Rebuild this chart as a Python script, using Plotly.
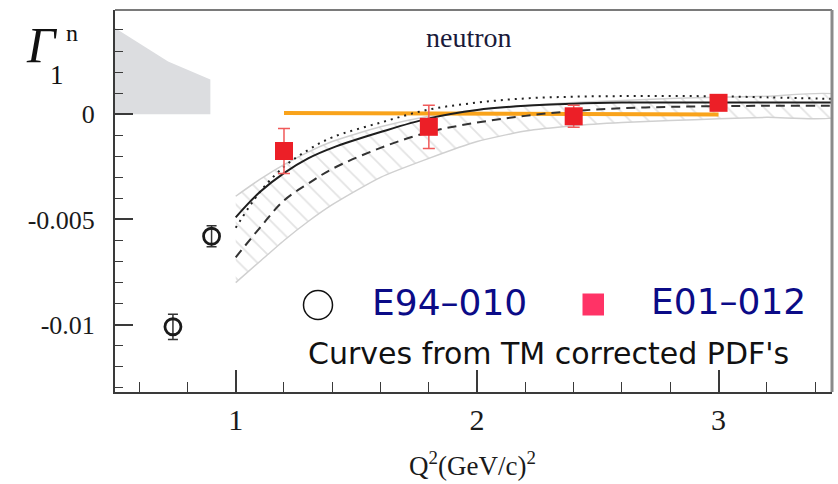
import plotly.graph_objects as go

# E94-010 measurements (open circles)
e94_q2 = [0.74, 0.90]
e94_g1 = [-0.0101, -0.0058]
e94_err = [0.0006, 0.0005]

# E01-012 measurements (red squares)
e01_q2 = [1.2, 1.8, 2.4, 3.0]
e01_g1 = [-0.00175, -0.0006, -0.0001, 0.00054]
e01_err = [0.00107, 0.00103, 0.00052, 0.0003]

# model curves from TM-corrected PDFs
curve_q2 = [1.0, 1.1, 1.2, 1.3, 1.4, 1.6, 1.8, 2.0, 2.2, 2.4, 2.6, 2.8, 3.0, 3.2, 3.5]
solid_g1 = [-0.0049, -0.0037, -0.0028, -0.0021, -0.0016, -0.00085, -0.0002, 0.0002,
            0.0004, 0.0005, 0.00055, 0.00056, 0.00056, 0.00056, 0.00056]
dotted_g1 = [-0.0054, -0.0037, -0.0025, -0.0017, -0.0011, -0.0004, 0.00022, 0.00055,
             0.00075, 0.00083, 0.00086, 0.00086, 0.00085, 0.0008, 0.00072]
dashed_g1 = [-0.0068, -0.0054, -0.0041, -0.0033, -0.0026, -0.0016, -0.00085, -0.0004,
             -0.00008, 0.00015, 0.00028, 0.00035, 0.00038, 0.0004, 0.0004]
band_top = [-0.0039, -0.0031, -0.0024, -0.0018, -0.0013, -0.0006, -0.0001, 0.0002,
            0.0004, 0.00055, 0.00065, 0.00075, 0.0008, 0.00085, 0.0009]
band_bottom = [-0.0080, -0.0070, -0.0060, -0.0051, -0.0043, -0.0030, -0.0021, -0.0013,
               -0.0008, -0.00055, -0.0004, -0.0003, -0.00022, -0.00015, -0.0001]

# low-Q2 uncertainty region (gray) and the flat orange estimate
gray_q2 = [0.5, 0.72, 0.895, 0.895, 0.5]
gray_g1 = [0.0041, 0.0025, 0.00165, 0.0, 0.0]
orange_q2 = [1.2, 3.0]
orange_g1 = [0.00006, -0.00001]

# axis ticks
x_ticks = [1, 2, 3]
x_ticktext = ["1", "2", "3"]
y_ticks = [0, -0.005, -0.01]
y_ticktext = ["0", "-0.005", "-0.01"]

# plot-area geometry in pixels (for placing text and legend glyphs)
W, H = 838, 484
ML, MR, MT, MB = 115, 6, 10, 92
PW, PH = W - ML - MR, H - MT - MB


def px_x(p):
    return (p - ML) / PW


def px_y(p):
    return (H - MB - p) / PH


SERIF = "Liberation Serif, Times New Roman, serif"
SANS = "DejaVu Sans, sans-serif"

fig = go.Figure()

# gray band
fig.add_trace(go.Scatter(
    x=gray_q2, y=gray_g1, mode="lines", fill="toself",
    fillcolor="#dcdde0", line=dict(width=0), hoverinfo="skip"))

# hatched uncertainty band
fig.add_trace(go.Scatter(
    x=curve_q2 + curve_q2[::-1], y=band_top + band_bottom[::-1],
    mode="lines", fill="toself", line=dict(color="#d0d0d0", width=1.5, shape="spline", smoothing=0.6),
    fillcolor="white",
    fillpattern=dict(shape="\\", fgcolor="#c8c8c8", bgcolor="white", size=13, solidity=0.14),
    hoverinfo="skip"))

# orange line
fig.add_trace(go.Scatter(
    x=orange_q2, y=orange_g1, mode="lines",
    line=dict(color="#f9a31b", width=4), hoverinfo="skip"))

# curves
fig.add_trace(go.Scatter(
    x=curve_q2, y=dotted_g1, mode="lines",
    line=dict(color="#222222", width=2, dash="2px,5px", shape="spline"), hoverinfo="skip"))
fig.add_trace(go.Scatter(
    x=curve_q2, y=dashed_g1, mode="lines",
    line=dict(color="#333333", width=2, dash="9px,6px", shape="spline"), hoverinfo="skip"))
fig.add_trace(go.Scatter(
    x=curve_q2, y=solid_g1, mode="lines",
    line=dict(color="#1e1e1e", width=2, shape="spline"), hoverinfo="skip"))

# E94-010 points
fig.add_trace(go.Scatter(
    x=e94_q2, y=e94_g1, mode="markers",
    marker=dict(symbol="circle-open", size=16, color="#1a1a1a", line=dict(width=2.8)),
    error_y=dict(type="data", array=e94_err, color="#333333", thickness=1.5, width=5)))

# E01-012 points
fig.add_trace(go.Scatter(
    x=e01_q2, y=e01_g1, mode="markers",
    marker=dict(symbol="square", size=18, color="#ec1f27"),
    error_y=dict(type="data", array=e01_err, color="#f05a5a", thickness=1.5, width=6)))

annotations = [
    dict(text="neutron", x=px_x(469), y=px_y(38), font=dict(family=SERIF, size=28, color="#1a1a3a")),
    dict(text="<i>Γ</i>", x=px_x(42), y=px_y(45), font=dict(family=SERIF, size=50, color="#111")),
    dict(text="n", x=px_x(72), y=px_y(33), font=dict(family=SERIF, size=24, color="#111")),
    dict(text="1", x=px_x(57), y=px_y(75), font=dict(family=SERIF, size=27, color="#111")),
    dict(text="Q<sup>2</sup>(GeV/c)<sup>2</sup>", x=px_x(472), y=px_y(464),
         font=dict(family=SERIF, size=27, color="#1a1a1a")),
    dict(text="E94–010", x=px_x(370), y=px_y(302), xanchor="left",
         font=dict(family=SANS, size=36, color="#0b0b87")),
    dict(text="E01–012", x=px_x(649), y=px_y(301), xanchor="left",
         font=dict(family=SANS, size=36, color="#0b0b87")),
    dict(text="Curves from TM corrected PDF's", x=px_x(306), y=px_y(353), xanchor="left",
         font=dict(family=SANS, size=30, color="#111111")),
]
for a in annotations:
    a.setdefault("xanchor", "center")
    a.update(xref="paper", yref="paper", yanchor="middle", showarrow=False)

shapes = [
    # frame top and right
    dict(type="line", xref="paper", yref="paper", x0=0, x1=1, y0=1, y1=1,
         line=dict(color="#7a7a7a", width=2)),
    dict(type="line", xref="paper", yref="paper", x0=1, x1=1, y0=0, y1=1,
         line=dict(color="#8a8a8a", width=3)),
    # legend glyphs
    dict(type="circle", xref="paper", yref="paper",
         x0=px_x(303.5), x1=px_x(332.5), y0=px_y(319.5), y1=px_y(290.5),
         line=dict(color="#111111", width=1.5), fillcolor="white"),
    dict(type="rect", xref="paper", yref="paper",
         x0=px_x(582.5), x1=px_x(604), y0=px_y(315.5), y1=px_y(293.5),
         line=dict(width=0), fillcolor="#ff3366"),
]

fig.update_layout(
    width=W, height=H,
    margin=dict(l=ML, r=MR, t=MT, b=MB),
    plot_bgcolor="white", paper_bgcolor="white",
    showlegend=False,
    annotations=annotations,
    shapes=shapes,
    xaxis=dict(
        range=[0.5, 3.47], showgrid=False, zeroline=False,
        showline=True, linecolor="#3a3a3a", linewidth=2,
        ticks="inside", ticklen=22, tickwidth=1.5, tickcolor="#3a3a3a",
        tickvals=x_ticks, ticktext=x_ticktext, ticklabelstandoff=0,
        tickfont=dict(family=SERIF, size=30, color="#1a1a1a"),
        minor=dict(dtick=0.2, tick0=0, ticks="inside", ticklen=10, tickwidth=1.2, tickcolor="#3a3a3a"),
    ),
    yaxis=dict(
        range=[-0.0132, 0.00495], showgrid=False, zeroline=False,
        showline=True, linecolor="#3a3a3a", linewidth=2,
        ticks="inside", ticklen=18, tickwidth=1.5, tickcolor="#3a3a3a",
        tickvals=y_ticks, ticktext=y_ticktext, ticklabelstandoff=13,
        tickfont=dict(family=SERIF, size=26, color="#1a1a1a"),
        minor=dict(dtick=0.001, tick0=0, ticks="inside", ticklen=8, tickwidth=1.2, tickcolor="#3a3a3a"),
    ),
)

fig.write_html("out.html")
